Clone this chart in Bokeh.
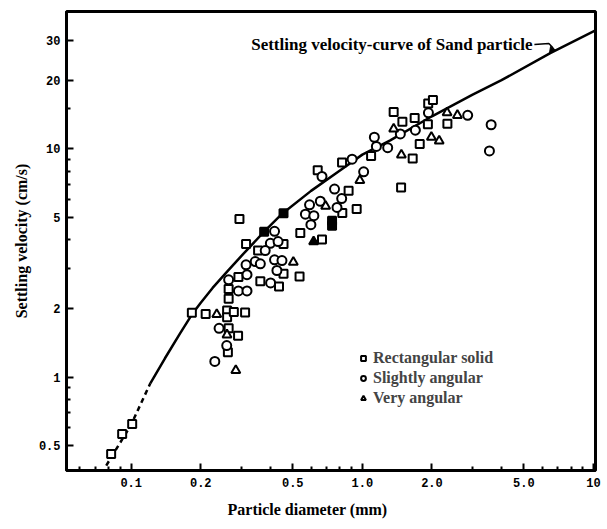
from bokeh.plotting import figure
from bokeh.models import (FixedTicker, Legend, LegendItem, Label, Arrow, NormalHead, Title)
from bokeh.embed import file_html
from bokeh.resources import INLINE

# --- data ---
rect_x = [0.0819, 0.0914, 0.101, 0.183, 0.210, 0.260, 0.260, 0.278, 0.311, 0.264, 0.290, 0.262,
          0.264, 0.264, 0.291, 0.294, 0.314, 0.354, 0.456, 0.456, 0.535, 0.362, 0.436, 0.539,
          0.669, 0.819, 0.945, 0.872, 0.641, 0.817, 1.091, 1.366, 1.49, 1.684, 1.927, 2.02,
          1.921, 2.333, 1.771, 1.651, 1.471]
rect_y = [0.461, 0.564, 0.623, 1.917, 1.89, 1.96, 1.83, 1.93, 1.92, 1.64, 1.52, 1.286,
          2.435, 2.207, 2.747, 4.93, 3.835, 3.586, 3.83, 2.837, 2.761, 2.634, 2.497, 4.28,
          4.013, 5.245, 5.454, 6.556, 8.07, 8.71, 9.32, 14.5, 13.16, 13.66, 15.8, 16.37,
          12.82, 12.9, 10.5, 9.07, 6.78]
rect_fill_x = [0.456, 0.376, 0.7395, 0.7395]
rect_fill_y = [5.22, 4.34, 4.85, 4.61]

circ_x = [0.264, 0.291, 0.317, 0.317, 0.240, 0.259, 0.230, 0.417, 0.400, 0.432, 0.380, 0.314,
          0.344, 0.362, 0.417, 0.449, 0.427, 0.401, 0.591, 0.567, 0.617, 0.599, 0.658, 0.758,
          0.814, 0.777, 0.669, 0.903, 1.013, 1.127, 1.15, 1.287, 1.46, 1.696, 1.931, 2.856,
          3.607, 3.546]
circ_y = [2.671, 2.386, 2.386, 2.811, 1.637, 1.375, 1.172, 4.353, 3.858, 3.925, 3.586, 3.105,
          3.211, 3.137, 3.266, 3.243, 2.933, 2.586, 5.69, 5.176, 5.098, 4.657, 5.898, 6.668,
          6.06, 5.54, 7.57, 9.02, 7.94, 11.25, 10.25, 10.13, 11.63, 12.08, 14.4, 14.04,
          12.76, 9.8]

tri_x = [0.2345, 0.2597, 0.2835, 0.6937, 0.5028, 0.9754, 1.366, 1.475, 1.989, 2.15, 2.326, 2.578]
tri_y = [1.884, 1.533, 1.07, 5.61, 3.188, 7.27, 12.23, 9.41, 11.26, 10.84, 14.4, 14.04]
tri_fill_x = [0.6154]
tri_fill_y = [3.925]

curve_dash_x = [0.078, 0.09, 0.1, 0.121]
curve_dash_y = [0.41, 0.52, 0.62, 0.94]
curve_x = [0.121, 0.14, 0.163, 0.183, 0.2, 0.225, 0.26, 0.3, 0.376, 0.45, 0.6, 0.8, 1.0, 1.32,
           2.0, 3.0, 4.0, 6.5, 10.2]
curve_y = [0.94, 1.21, 1.56, 1.88, 2.12, 2.46, 2.9, 3.4, 4.34, 5.2, 6.55, 8.05, 9.44, 10.9,
           13.9, 17.3, 20.0, 26.3, 33.1]

x_major = [0.1, 0.2, 0.5, 1.0, 2.0, 5.0, 10.0]
x_labels = ["0.1", "0.2", "0.5", "1.0", "2.0", "5.0", "10"]
x_minor = [0.06, 0.07, 0.08, 0.09, 0.3, 0.4, 0.6, 0.7, 0.8, 0.9, 3.0, 4.0, 6.0, 7.0, 8.0, 9.0]
y_major = [0.5, 1, 2, 5, 10, 20, 30]
y_labels = ["0.5", "1", "2", "5", "10", "20", "30"]
y_minor = [0.6, 0.7, 0.8, 0.9, 3, 4, 6, 7, 8, 9, 15]

FONT = "Liberation Serif"
TICKFONT = "Liberation Mono"

p = figure(width=607, height=529, x_axis_type="log", y_axis_type="log",
           x_range=(0.0525, 10.2), y_range=(0.39, 40.0),
           output_backend="svg", toolbar_location=None,
           min_border_left=66, min_border_right=12, min_border_top=11, min_border_bottom=59)
p.background_fill_color = "white"
p.border_fill_color = "white"
p.xgrid.visible = False
p.ygrid.visible = False
p.outline_line_color = "black"
p.outline_line_width = 3

for ax, maj, lab, mnr in ((p.xaxis[0], x_major, x_labels, x_minor),
                          (p.yaxis[0], y_major, y_labels, y_minor)):
    ax.ticker = FixedTicker(ticks=maj, minor_ticks=mnr)
    ax.major_label_overrides = {v: l for v, l in zip(maj, lab)}
    ax.major_tick_in = 7
    ax.major_tick_out = 0
    ax.minor_tick_in = 4
    ax.minor_tick_out = 0
    ax.major_tick_line_width = 2
    ax.minor_tick_line_width = 2
    ax.axis_line_width = 3
    ax.major_label_text_font = TICKFONT
    ax.major_label_text_font_style = "bold"
    ax.major_label_text_font_size = "12px"
    ax.major_label_text_color = "black"

p.yaxis.major_label_standoff = 6
p.xaxis.major_label_standoff = 7
p.yaxis.axis_label = "Settling velocity (cm/s)"
p.yaxis.axis_label_text_font = FONT
p.yaxis.axis_label_text_font_style = "bold"
p.yaxis.axis_label_text_font_size = "16px"
p.yaxis.axis_label_text_color = "black"
p.yaxis.axis_label_standoff = 6

# x axis title as a left-offset title panel below the axis
p.add_layout(Title(text="Particle diameter (mm)", align="left", offset=161,
                   text_font=FONT, text_font_style="bold", text_font_size="16px",
                   text_color="black", standoff=18), "below")

# curve
p.line(curve_dash_x, curve_dash_y, line_color="black", line_width=2.5, line_dash="5 4")
p.line(curve_x, curve_y, line_color="black", line_width=2.5)

# points
r_sq = p.scatter(rect_x, rect_y, marker="square", size=8, line_color="black",
                 line_width=2, fill_color="white")
p.scatter(rect_fill_x, rect_fill_y, marker="square", size=8, line_color="black",
          line_width=2, fill_color="black")
r_ci = p.scatter(circ_x, circ_y, marker="circle", size=9, line_color="black",
                 line_width=2, fill_color="white")
r_tr = p.scatter(tri_x, tri_y, marker="triangle", size=9, line_color="black",
                 line_width=2, fill_color="white")
p.scatter(tri_fill_x, tri_fill_y, marker="triangle", size=9, line_color="black",
          line_width=2, fill_color="black")

# annotation text with hooked arrow
p.add_layout(Label(x=5.45, y=28.8, text="Settling velocity-curve of Sand particle",
                   text_align="right", text_baseline="middle", text_font=FONT,
                   text_font_style="bold", text_font_size="17px", text_color="black"))
p.line([5.55, 6.41, 6.69], [28.66, 28.95, 27.7], line_color="black", line_width=1.5)
p.add_layout(Arrow(end=NormalHead(size=6, fill_color="black", line_color="black"),
                   x_start=6.69, y_start=27.7, x_end=6.45, y_end=26.3,
                   line_color="black", line_width=1.5))

legend = Legend(items=[LegendItem(label="Rectangular solid", renderers=[r_sq]),
                       LegendItem(label="Slightly angular", renderers=[r_ci]),
                       LegendItem(label="Very angular", renderers=[r_tr])],
                location=(291, 62), padding=0, margin=0, spacing=0,
                glyph_width=12, glyph_height=20, label_height=20, label_standoff=4,
                label_text_font=FONT, label_text_font_style="bold",
                label_text_font_size="16px", border_line_color=None,
                background_fill_alpha=0)
p.add_layout(legend)

open("out.html", "w").write(file_html(p, INLINE))
